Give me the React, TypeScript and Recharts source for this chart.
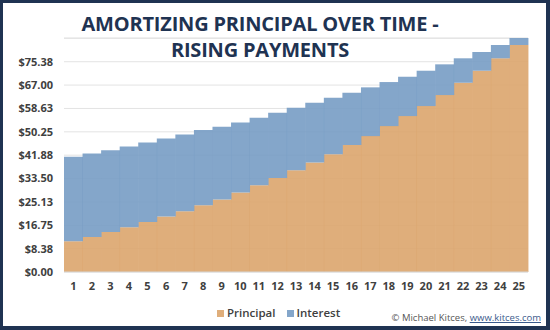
import React from "react";
import { BarChart, Bar, XAxis, YAxis, CartesianGrid } from "recharts";

const years = [
  "1", "2", "3", "4", "5", "6", "7", "8", "9", "10", "11", "12", "13",
  "14", "15", "16", "17", "18", "19", "20", "21", "22", "23", "24", "25",
];

const principal = [
  11.02, 12.56, 14.36, 16.04, 17.95, 19.89, 21.79, 23.94, 25.99, 28.5, 31.12, 33.74, 36.5,
  39.27, 42.18, 45.48, 48.71, 52.3, 55.89, 59.48, 63.42, 67.84, 72.15, 76.6, 81.37,
];

const interest = [
  30.26, 29.94, 29.32, 28.97, 28.5, 27.99, 27.53, 26.92, 26.06, 25.13, 24.16, 23.33, 22.37,
  21.39, 20.28, 18.77, 17.48, 15.79, 14.1, 12.67, 11.02, 8.76, 6.71, 4.77, 2.51,
];

const yTicks = [0, 8.375, 16.75, 25.125, 33.5, 41.875, 50.25, 58.625, 67, 75.375, 83.75];

const seriesNames = ["Principal", "Interest"];
const seriesColors = ["#dca56d", "#779cc4"];

const data = years.map((year, i) => ({
  year,
  Principal: principal[i],
  Interest: interest[i],
}));

const NAVY = "#1f3352";
const LABEL = "#404040";
const FONT = "'Open Sans', sans-serif";

export default function App() {
  return (
    <div
      style={{
        position: "absolute",
        left: 0,
        top: 0,
        width: 550,
        height: 330,
        background: NAVY,
        fontFamily: FONT,
      }}
    >
      <div
        style={{
          position: "absolute",
          left: 3,
          top: 3,
          width: 543,
          height: 323,
          background: "#fff",
        }}
      />
      <div style={{ position: "absolute", left: 0, top: 0 }}>
        <BarChart
          width={550}
          height={330}
          data={data}
          barCategoryGap={0}
          margin={{ top: 38, right: 22, left: 0, bottom: 0 }}
        >
          <CartesianGrid vertical={false} stroke="#e3e3e3" />
          <XAxis
            dataKey="year"
            height={58}
            tickLine={false}
            axisLine={{ stroke: "#d9d9d9" }}
            tickSize={0}
            tickMargin={10}
            interval={0}
            tick={{ fill: LABEL, fontSize: 11, fontWeight: 700, fontFamily: FONT }}
          />
          <YAxis
            width={64}
            domain={[0, 83.75]}
            ticks={yTicks}
            interval={0}
            tickLine={false}
            axisLine={false}
            tickSize={0}
            tickMargin={11}
            tickFormatter={(v: number) => (v >= 83 ? "" : `$${v.toFixed(2)}`)}
            tick={{ fill: LABEL, fontSize: 11, fontWeight: 700, fontFamily: FONT }}
          />
          {seriesNames.map((name, i) => (
            <Bar
              key={name}
              dataKey={name}
              stackId="a"
              fill={seriesColors[i]}
              fillOpacity={0.9}
              isAnimationActive={false}
            />
          ))}
        </BarChart>
      </div>
      <div
        style={{
          position: "absolute",
          left: 217,
          top: 304,
          display: "flex",
          gap: 11,
          fontSize: 11.5,
          fontWeight: 600,
          color: LABEL,
          lineHeight: "18px",
        }}
      >
        {seriesNames.map((name, i) => (
          <div key={name} style={{ display: "flex", alignItems: "center", gap: 3 }}>
            <span
              style={{
                display: "inline-block",
                width: 7,
                height: 7,
                background: seriesColors[i],
                opacity: 0.9,
              }}
            />
            {name}
          </div>
        ))}
      </div>
      <div
        style={{
          position: "absolute",
          left: 0,
          top: 11,
          width: 520,
          textAlign: "center",
          color: NAVY,
          fontSize: 20,
          fontWeight: 700,
          lineHeight: "26px",
          letterSpacing: -0.2,
        }}
      >
        AMORTIZING PRINCIPAL OVER TIME -<br />
        RISING PAYMENTS
      </div>
      <div
        style={{
          position: "absolute",
          right: 9,
          top: 311,
          fontSize: 9.5,
          color: "#555",
        }}
      >
        © Michael Kitces,{" "}
        <span style={{ color: "#3a5a8c", textDecoration: "underline" }}>www.kitces.com</span>
      </div>
    </div>
  );
}
